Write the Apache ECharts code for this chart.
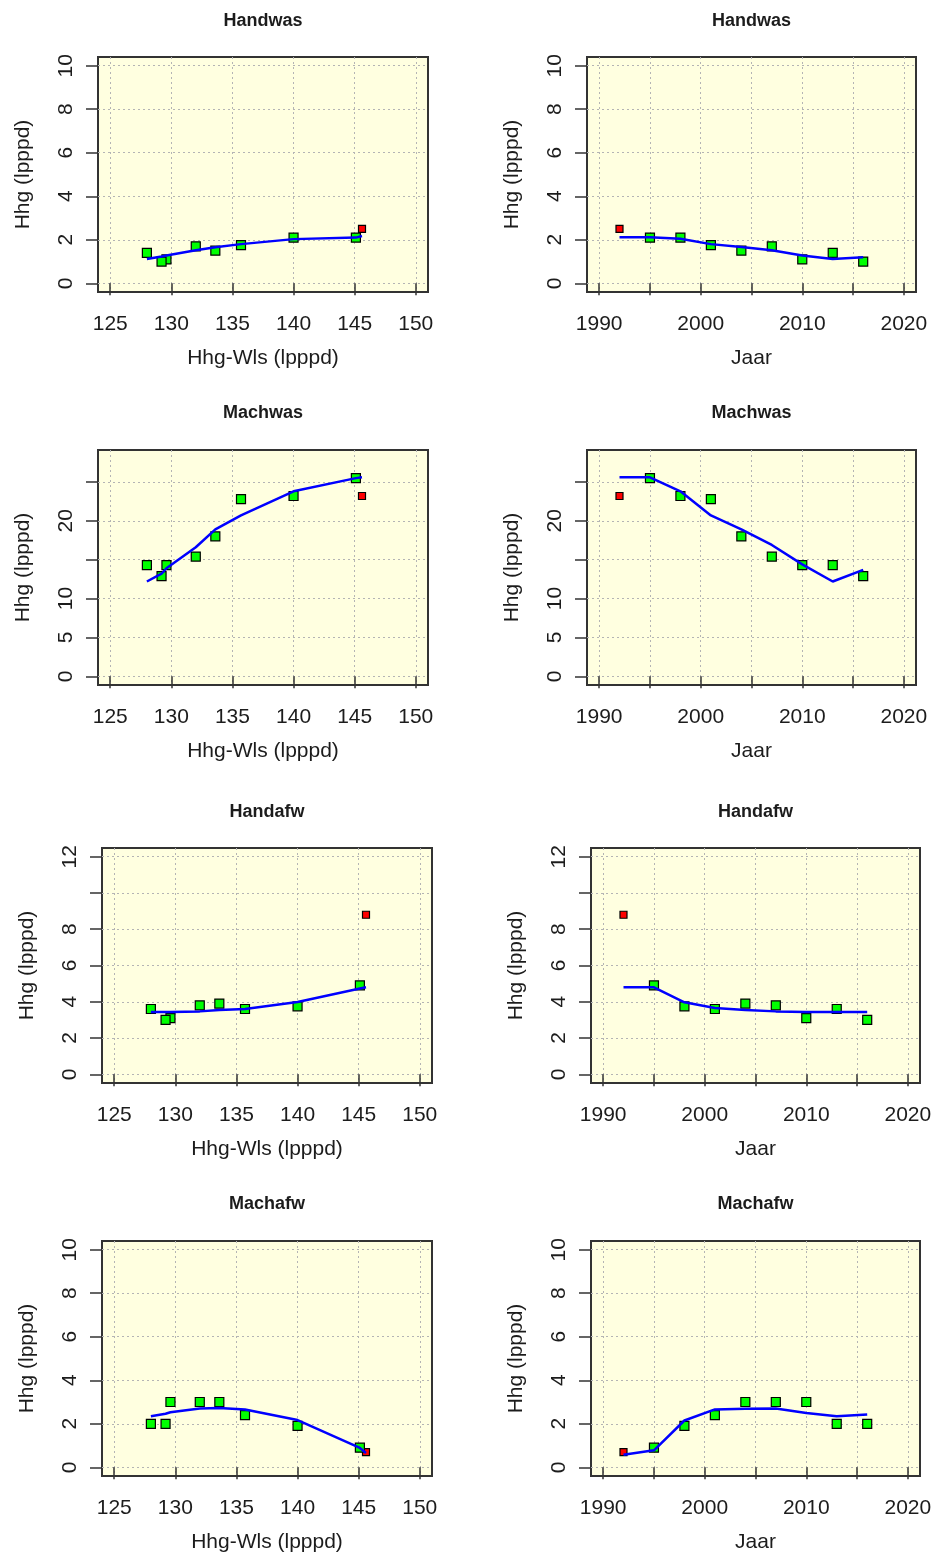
<!DOCTYPE html>
<html>
<head>
<meta charset="utf-8">
<script src="https://cdn.jsdelivr.net/npm/echarts@6/dist/echarts.min.js"></script>
<style>
  html, body { margin: 0; padding: 0; background: #fff; }
  #chart { width: 936px; height: 1558px; }
</style>
</head>
<body>
<div id="chart"></div>
<script>
// meetjaren en bijbehorende Hhg-Wls
const years = [1992, 1995, 1998, 2001, 2004, 2007, 2010, 2013, 2016];
const hhgWls = [145.6, 145.1, 140.0, 135.7, 133.6, 132.0, 129.6, 128.0, 129.2];
// 1992 is de afwijkende (rode) meting
const isOutlier = [true, false, false, false, false, false, false, false, false];

// Hhg per meetpunt, in volgorde van years
const handwas = [2.5, 2.1, 2.1, 1.75, 1.5, 1.7, 1.1, 1.4, 1.0];
const machwas = [23.2, 25.5, 23.2, 22.8, 18.0, 15.4, 14.3, 14.3, 12.9];
const handafw = [8.8, 4.9, 3.75, 3.6, 3.9, 3.8, 3.1, 3.6, 3.0];
const machafw = [0.7, 0.9, 1.9, 2.4, 3.0, 3.0, 3.0, 2.0, 2.0];

const wlsSorted = [128.0, 129.2, 129.6, 132.0, 133.6, 135.7, 140.0, 145.1, 145.6];
const handwasFitWls = [1.12, 1.23, 1.28, 1.52, 1.66, 1.8, 2.03, 2.1, 2.17];
const machwasFitWls = [12.2, 13.2, 13.9, 16.6, 18.9, 20.7, 23.8, 25.5, 25.6];
const handafwFitWls = [3.43, 3.43, 3.43, 3.47, 3.54, 3.6, 3.99, 4.73, 4.8];
const machafwFitWls = [2.35, 2.46, 2.53, 2.7, 2.73, 2.66, 2.17, 0.89, 0.66];

const handwasFitJaar = [2.12, 2.12, 2.05, 1.8, 1.67, 1.52, 1.28, 1.12, 1.2];
const machwasFitJaar = [25.6, 25.6, 23.8, 20.7, 18.9, 16.9, 14.4, 12.2, 13.7];
const handafwFitJaar = [4.8, 4.8, 3.97, 3.66, 3.54, 3.47, 3.43, 3.43, 3.43];
const machafwFitJaar = [0.58, 0.78, 2.15, 2.66, 2.69, 2.7, 2.5, 2.35, 2.43];

// as-ticks en labels
const wlsTicks = [125, 130, 135, 140, 145, 150];
const jaarTicks = [1990, 1995, 2000, 2005, 2010, 2015, 2020];
const jaarLabels = [1990, 2000, 2010, 2020];
const yTicks10 = [0, 2, 4, 6, 8, 10];
const yTicksMachwas = [0, 5, 10, 15, 20, 25];
const yLabelsMachwas = [0, 5, 10, 20];
const yTicksHandafw = [0, 2, 4, 6, 8, 10, 12];
const yLabelsHandafw = [0, 2, 4, 6, 8, 12];

const FONT = '"Liberation Sans", Arial, sans-serif';
const TXT = '#1c1c1c';

const stations = [
  { name: 'Handwas', vals: handwas, fitWls: handwasFitWls, fitJaar: handwasFitJaar, yMin: -0.4, yMax: 10.4, yTicks: yTicks10, yLabels: yTicks10 },
  { name: 'Machwas', vals: machwas, fitWls: machwasFitWls, fitJaar: machwasFitJaar, yMin: -1.12, yMax: 29.12, yTicks: yTicksMachwas, yLabels: yLabelsMachwas },
  { name: 'Handafw', vals: handafw, fitWls: handafwFitWls, fitJaar: handafwFitJaar, yMin: -0.48, yMax: 12.48, yTicks: yTicksHandafw, yLabels: yLabelsHandafw },
  { name: 'Machafw', vals: machafw, fitWls: machafwFitWls, fitJaar: machafwFitJaar, yMin: -0.4, yMax: 10.4, yTicks: yTicks10, yLabels: yTicks10 }
];

// plotvakken: [left, top, width, height]
const boxes = [
  [98, 57, 330, 235], [587, 57, 329, 235],
  [98, 450, 330, 235], [587, 450, 329, 235],
  [102, 848, 330, 235], [591, 848, 329, 235],
  [102, 1241, 330, 235], [591, 1241, 329, 235]
];
const titleTops = [12, 404, 803, 1195];

const grid = [], xAxis = [], yAxis = [], series = [], title = [];
const tickStyle = { color: '#333', width: 1.5 };
const splitStyle = { color: '#b4b4b4', width: 1, type: [2, 3] };
const labelStyle = { fontFamily: FONT, fontSize: 21, color: TXT };

stations.forEach((st, r) => {
  ['wls', 'jaar'].forEach((kind, c) => {
    const i = r * 2 + c;
    const b = boxes[i];
    const isWls = kind === 'wls';
    grid.push({
      left: b[0], top: b[1], width: b[2], height: b[3],
      show: true, backgroundColor: '#FFFFE0', borderColor: '#333', borderWidth: 2
    });
    title.push({
      text: st.name, left: b[0] + b[2] / 2, top: titleTops[r], textAlign: 'center', padding: 0,
      textStyle: { fontFamily: FONT, fontSize: 18, fontWeight: 'bold', color: TXT }
    });
    xAxis.push({
      type: 'value', gridIndex: i,
      min: isWls ? 124 : 1988.8, max: isWls ? 151 : 2021.2,
      name: isWls ? 'Hhg-Wls (lpppd)' : 'Jaar', nameLocation: 'middle', nameGap: 56,
      nameTextStyle: labelStyle,
      axisLine: { show: false },
      axisTick: { show: true, length: 12, lineStyle: tickStyle, customValues: isWls ? wlsTicks : jaarTicks },
      axisLabel: Object.assign({ margin: 22, customValues: isWls ? wlsTicks : jaarLabels, formatter: v => String(v) }, labelStyle),
      splitLine: { show: true, lineStyle: splitStyle }
    });
    yAxis.push({
      type: 'value', gridIndex: i, min: st.yMin, max: st.yMax,
      name: 'Hhg (lpppd)', nameLocation: 'middle', nameGap: 64,
      nameTextStyle: labelStyle,
      axisLine: { show: false },
      axisTick: { show: true, length: 12, lineStyle: tickStyle, customValues: st.yTicks },
      axisLabel: Object.assign({ margin: 21, rotate: 90, customValues: st.yLabels, formatter: v => String(v) }, labelStyle),
      splitLine: { show: true, lineStyle: splitStyle }
    });
    const xs = isWls ? hhgWls : years;
    series.push({
      type: 'scatter', xAxisIndex: i, yAxisIndex: i, symbol: 'rect', silent: true,
      itemStyle: { borderColor: '#000', borderWidth: 1.2, opacity: 1 },
      data: xs.map((x, k) => ({
        value: [x, st.vals[k]],
        symbolSize: isOutlier[k] ? 7 : 9,
        itemStyle: { color: isOutlier[k] ? '#FF0000' : '#00FF00' }
      }))
    });
    const fx = isWls ? wlsSorted : years;
    const fy = isWls ? st.fitWls : st.fitJaar;
    series.push({
      type: 'line', xAxisIndex: i, yAxisIndex: i, symbol: 'none', silent: true,
      lineStyle: { color: '#0000FF', width: 2.5 },
      data: fx.map((x, k) => [x, fy[k]])
    });
  });
});

const chart = echarts.init(document.getElementById('chart'));
chart.setOption({ animation: false, title, grid, xAxis, yAxis, series });
</script>
</body>
</html>
